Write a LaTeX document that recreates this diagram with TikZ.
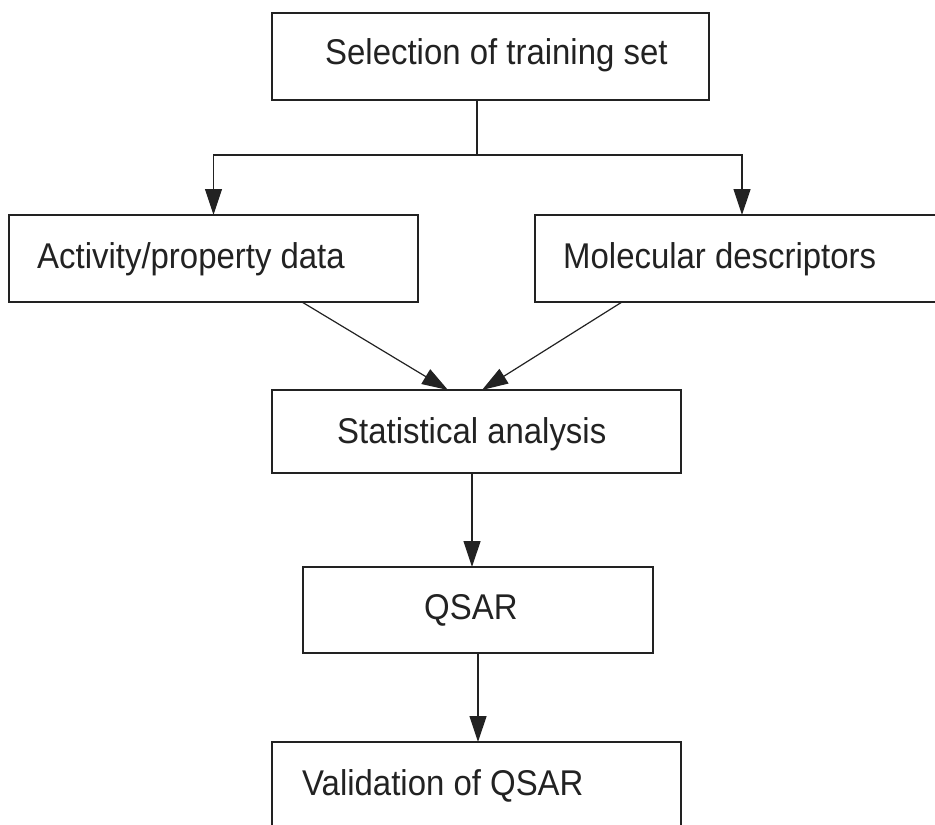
\documentclass[tikz,border=0pt]{standalone}
\usepackage{fontspec}
\setmainfont{Liberation Sans}[FakeStretch=0.92]
\usetikzlibrary{arrows.meta}
\definecolor{ink}{HTML}{222222}
\tikzset{
  box/.style={draw=ink, line width=1.3pt, rectangle, inner sep=0pt, outer sep=0pt, fill=none},
  lbl/.style={anchor=base west, inner sep=0pt, text=ink, font=\fontsize{35.8}{42}\selectfont},
  conn/.style={draw=ink, line width=1.2pt},
  arr/.style={conn, -{Triangle[length=26pt,width=17pt]}}
}
\begin{document}
\begin{tikzpicture}[x=1pt, y=-1pt]
\useasboundingbox (0,0) rectangle (935,825);
\clip (0,0) rectangle (935,825);
\node[box, minimum width=437pt, minimum height=87pt] (b1) at (490.5,56.5) {};
\node[box, minimum width=409pt, minimum height=87pt] (b2) at (213.5,258.5) {};
\node[box, minimum width=414pt, minimum height=87pt] (b3) at (742,258.5) {};
\node[box, minimum width=409pt, minimum height=83pt] (b4) at (476.5,431.5) {};
\node[box, minimum width=350pt, minimum height=86pt] (b5) at (478,610) {};
\node[box, minimum width=409pt, minimum height=98pt] (b6) at (476.5,791) {};

\node[lbl] (t1) at (325,64) {Selection of training set};
\node[lbl] (t2) at (37,268) {Activity/property data};
\node[lbl] (t3) at (563,268) {Molecular descriptors};
\node[lbl] (t4) at (337,443) {Statistical analysis};
\node[lbl] (t5) at (424,619) {QSAR};
\node[lbl] (t6) at (302,795) {Validation of QSAR};

\coordinate (sp) at (477,155);
\draw[conn] ([xshift=-13.5pt]b1.south) -- (sp);
\draw[arr] (sp) -| (b2.north);
\draw[arr] (sp) -| (b3.north);
\draw[arr] ([xshift=88.5pt]b2.south) -- ([xshift=-28.5pt]b4.north);
\draw[arr] ([xshift=-120pt]b3.south) -- ([xshift=5.5pt]b4.north);
\draw[arr] ([xshift=-4.5pt]b4.south) -- ([xshift=-4.5pt]b4.south |- b5.north);
\draw[arr] (b5.south) -- (b5.south |- b6.north);
\end{tikzpicture}
\end{document}
